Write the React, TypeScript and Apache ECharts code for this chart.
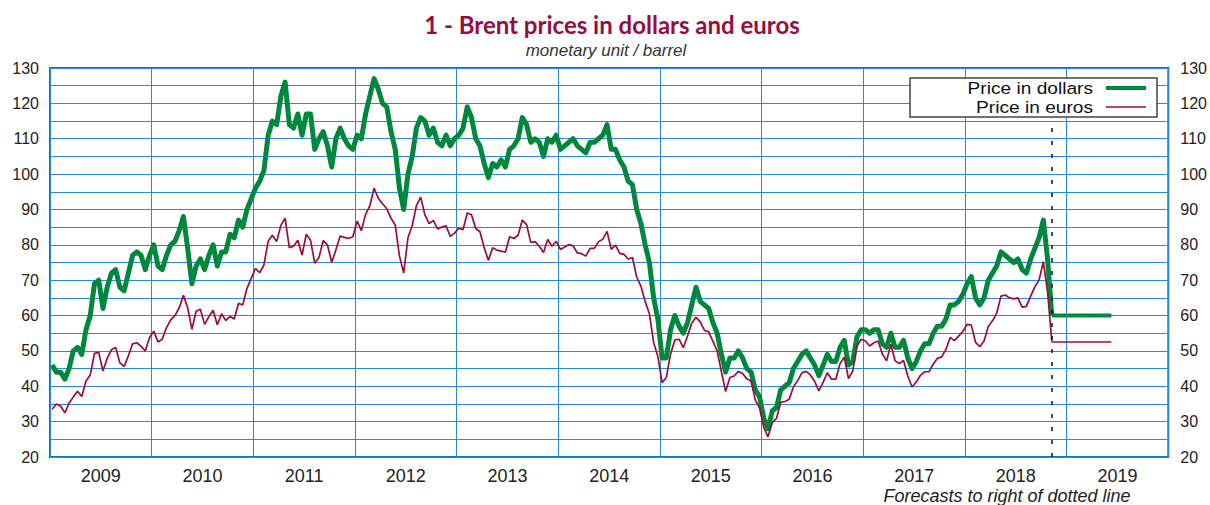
import React, { useEffect, useRef } from "react";
import * as echarts from "echarts";

// ---- Data (semi-monthly readings, monetary unit per barrel) ----
const years = ["2009", "2010", "2011", "2012", "2013", "2014", "2015", "2016", "2017", "2018", "2019"];

const usd2009 = [46, 44, 44, 42, 45, 50, 51, 49, 56, 60, 69, 70, 62, 68, 72, 73, 68, 67, 72, 77, 78, 77, 73, 77];
const usd2010 = [80, 74, 73, 77, 80, 81, 84, 88, 79, 69, 74, 76, 73, 77, 80, 74, 78, 78, 83, 82, 87, 85, 90, 93];
const usd2011 = [96, 98, 101, 111, 115, 114, 122, 126, 114, 113, 117, 111, 117, 117, 107, 110, 112, 108, 102, 110, 113, 110, 108, 107];
const usd2012 = [111, 110, 117, 122, 127, 124, 120, 119, 112, 107, 96, 90, 100, 105, 113, 116, 115, 111, 113, 109, 108, 111, 108, 110];
const usd2013 = [111, 113, 119, 116, 110, 108, 103, 99, 103, 102, 104, 102, 107, 108, 110, 116, 114, 109, 110, 109, 105, 110, 109, 111];
const usd2014 = [107, 108, 109, 110, 108, 107, 106, 109, 109, 110, 111, 114, 107, 107, 104, 102, 98, 97, 90, 86, 80, 75, 65, 59];
const usd2015 = [48, 48, 56, 60, 57, 55, 58, 63, 68, 64, 63, 62, 58, 55, 49, 44, 48, 48, 50, 48, 45, 44, 39, 37];
const usd2016 = [31, 28, 33, 34, 39, 40, 41, 45, 47, 49, 50, 48, 46, 43, 46, 49, 47, 47, 51, 53, 46, 47, 54, 56];
const usd2017 = [56, 55, 56, 56, 52, 51, 55, 51, 51, 53, 48, 45, 47, 50, 52, 52, 55, 57, 57, 59, 63, 63, 64, 66];
const usd2018 = [69, 71, 65, 63, 65, 70, 72, 74, 78, 77, 76, 75, 76, 73, 72, 76, 79, 82, 87, 76, 60];

const eur2009 = [33.5, 35.0, 34.4, 32.5, 35.2, 37.0, 38.6, 37.1, 41.5, 43.2, 49.3, 49.6, 44.3, 47.9, 50.3, 51.0, 46.6, 45.6, 48.6, 52.0, 52.3, 51.3, 50.0, 53.8];
const eur2010 = [55.6, 52.5, 53.3, 56.6, 58.8, 60.0, 62.2, 65.7, 62.2, 56.1, 61.2, 61.8, 57.5, 59.7, 61.5, 57.4, 60.5, 58.6, 59.7, 59.0, 63.5, 63.0, 67.7, 70.5];
const eur2011 = [73.3, 72.1, 74.3, 81.0, 82.7, 80.9, 85.5, 87.5, 79.2, 79.6, 81.3, 77.1, 83.0, 81.3, 74.8, 76.4, 81.2, 80.0, 75.0, 78.6, 82.5, 82.1, 81.8, 82.3];
const eur2012 = [86.7, 84.0, 88.6, 91.0, 96.0, 93.2, 91.6, 90.2, 87.5, 85.6, 76.8, 72.0, 82.0, 85.4, 91.1, 93.5, 88.5, 86.0, 86.9, 84.5, 85.0, 85.4, 82.4, 83.3];
const eur2013 = [84.7, 84.3, 89.0, 88.5, 84.6, 83.7, 79.2, 75.6, 79.2, 78.5, 78.2, 77.9, 82.3, 81.8, 82.7, 87.0, 85.7, 80.7, 80.9, 79.6, 77.8, 81.5, 79.6, 81.0];
const eur2014 = [78.7, 79.4, 80.1, 79.7, 77.7, 77.5, 76.8, 79.0, 79.0, 80.9, 81.6, 83.8, 78.7, 79.9, 77.6, 77.3, 76.0, 76.4, 70.9, 68.3, 64.0, 60.5, 52.4, 48.4];
const eur2015 = [41.0, 42.5, 49.1, 53.1, 53.3, 50.9, 54.2, 57.8, 59.5, 58.2, 55.8, 55.4, 52.7, 50.0, 44.1, 38.5, 42.5, 42.9, 44.2, 43.6, 42.1, 41.5, 36.1, 33.9];
const eur2016 = [28.4, 25.7, 29.7, 30.9, 35.5, 35.7, 36.3, 39.8, 41.6, 43.8, 44.2, 43.2, 41.4, 38.7, 41.1, 43.8, 42.0, 42.0, 46.4, 48.2, 42.2, 44.3, 51.4, 53.3];
const eur2017 = [52.8, 51.4, 52.3, 52.8, 49.1, 47.2, 51.9, 47.2, 46.4, 47.3, 42.9, 39.8, 41.2, 43.1, 44.1, 44.1, 46.2, 47.9, 48.3, 50.4, 53.8, 52.9, 54.2, 55.5];
const eur2018 = [57.5, 57.3, 52.4, 51.2, 52.8, 56.9, 58.5, 60.7, 65.5, 65.8, 65.0, 64.7, 65.0, 62.4, 62.6, 65.5, 68.1, 70.1, 75.2, 66.7, 52.6];

const forecastUsd = [60, 60];
const forecastEur = [52.5, 52.5];
const forecastEnd = 2019.44;

const usdByYear = [usd2009, usd2010, usd2011, usd2012, usd2013, usd2014, usd2015, usd2016, usd2017, usd2018];
const eurByYear = [eur2009, eur2010, eur2011, eur2012, eur2013, eur2014, eur2015, eur2016, eur2017, eur2018];

const GREEN = "#00873e";
const RED = "#9b0c3d";
const GRIDBLUE = "#2b8bd0";
const FONT = "'Liberation Sans', Arial, Helvetica, sans-serif";

function toPoints(list: number[][]) {
  const out: [number, number][] = [];
  list.forEach((vals, k) => {
    vals.forEach((v, i) => out.push([2009 + k + (i + 0.5) / 24, v]));
  });
  return out;
}

export default function App() {
  const ref = useRef<HTMLDivElement>(null);
  useEffect(() => {
    if (!ref.current) return;
    const chart = echarts.init(ref.current, undefined, { renderer: "svg" });
    const usd = toPoints(usdByYear);
    const eur = toPoints(eurByYear);
    const lastX = usd[usd.length - 1][0];

    chart.setOption({
      animation: false,
      backgroundColor: "#ffffff",
      grid: {
        left: 50,
        right: 41,
        top: 68,
        bottom: 48,
        show: true,
        borderColor: "#0a76bf",
        borderWidth: 2,
        backgroundColor: "transparent",
      },
      xAxis: [
        {
          type: "value",
          min: 2009,
          max: 2020,
          interval: 1,
          position: "top",
          axisLabel: { show: false },
          axisLine: { show: false },
          axisTick: { show: false },
          splitLine: { show: true, lineStyle: { color: GRIDBLUE, width: 1 } },
        },
        {
          type: "category",
          data: years,
          position: "bottom",
          boundaryGap: true,
          axisLine: { show: false },
          axisTick: { show: false },
          splitLine: { show: false },
          axisLabel: { color: "#222", fontSize: 18, fontFamily: FONT, margin: 10 },
        },
      ],
      yAxis: [
        {
          type: "value",
          min: 20,
          max: 130,
          interval: 5,
          position: "left",
          axisLine: { show: false },
          axisTick: { show: false },
          axisLabel: {
            color: "#222",
            fontSize: 16,
            fontFamily: FONT,
            margin: 11,
            formatter: (v: number) => (v % 10 === 0 ? String(v) : ""),
          },
          splitLine: { show: true, lineStyle: { color: GRIDBLUE, width: 1 } },
        },
        {
          type: "value",
          min: 20,
          max: 130,
          interval: 5,
          position: "right",
          axisLine: { show: false },
          axisTick: { show: false },
          axisLabel: {
            color: "#222",
            fontSize: 16,
            fontFamily: FONT,
            margin: 12,
            formatter: (v: number) => (v % 10 === 0 ? String(v) : ""),
          },
          splitLine: { show: false },
        },
      ],
      series: [
        {
          name: "Price in dollars",
          type: "line",
          xAxisIndex: 0,
          yAxisIndex: 0,
          data: usd,
          showSymbol: false,
          lineStyle: { color: GREEN, width: 5, join: "round" },
          z: 2,
        },
        {
          name: "Price in dollars forecast",
          type: "line",
          xAxisIndex: 0,
          yAxisIndex: 0,
          data: [
            [lastX, forecastUsd[0]],
            [forecastEnd, forecastUsd[1]],
          ],
          showSymbol: false,
          lineStyle: { color: GREEN, width: 4 },
          z: 2,
          markLine: {
            silent: true,
            symbol: "none",
            label: { show: false },
            lineStyle: { color: "#111", type: [4, 9], width: 1.5 },
            data: [[{ coord: [lastX, 113] }, { coord: [lastX, 20] }]],
          },
        },
        {
          name: "Price in euros",
          type: "line",
          xAxisIndex: 0,
          yAxisIndex: 0,
          data: eur,
          showSymbol: false,
          lineStyle: { color: RED, width: 1.7 },
          z: 3,
        },
        {
          name: "Price in euros forecast",
          type: "line",
          xAxisIndex: 0,
          yAxisIndex: 0,
          data: [
            [lastX, forecastEur[0]],
            [forecastEnd, forecastEur[1]],
          ],
          showSymbol: false,
          lineStyle: { color: RED, width: 1.4 },
          z: 3,
        },
      ],
      graphic: [
        {
          type: "text",
          x: 612,
          y: 24,
          z: 100,
          style: {
            text: "1 - Brent prices in dollars and euros",
            fill: "#9b0c3d",
            font: "bold 24px Lato, 'Open Sans', sans-serif",
            textAlign: "center",
            textVerticalAlign: "middle",
          },
        },
        {
          type: "text",
          x: 606,
          y: 50,
          z: 100,
          style: {
            text: "monetary unit / barrel",
            fill: "#333",
            font: "italic 17px " + FONT,
            textAlign: "center",
            textVerticalAlign: "middle",
          },
        },
        {
          type: "text",
          x: 1007,
          y: 496,
          z: 100,
          style: {
            text: "Forecasts to right of dotted line",
            fill: "#222",
            font: "italic 18px " + FONT,
            textAlign: "center",
            textVerticalAlign: "middle",
          },
        },
        {
          type: "rect",
          z: 100,
          shape: { x: 910, y: 78, width: 247, height: 39 },
          style: { fill: "#ffffff", stroke: "#444", lineWidth: 1.5 },
        },
        {
          type: "text",
          x: 1093,
          y: 88,
          scaleX: 1.16,
          z: 101,
          style: {
            text: "Price in dollars",
            fill: "#111",
            font: "16.5px " + FONT,
            textAlign: "right",
            textVerticalAlign: "middle",
          },
        },
        {
          type: "line",
          z: 101,
          shape: { x1: 1106, y1: 88, x2: 1146, y2: 88 },
          style: { stroke: GREEN, lineWidth: 4 },
        },
        {
          type: "text",
          x: 1093,
          y: 107,
          scaleX: 1.16,
          z: 101,
          style: {
            text: "Price in euros",
            fill: "#111",
            font: "16.5px " + FONT,
            textAlign: "right",
            textVerticalAlign: "middle",
          },
        },
        {
          type: "line",
          z: 101,
          shape: { x1: 1106, y1: 107, x2: 1146, y2: 107 },
          style: { stroke: RED, lineWidth: 1.5 },
        },
      ],
    });
    return () => chart.dispose();
  }, []);

  return (
    <div
      ref={ref}
      style={{ position: "fixed", left: 0, top: 0, width: 1210, height: 505, background: "#fff" }}
    />
  );
}
